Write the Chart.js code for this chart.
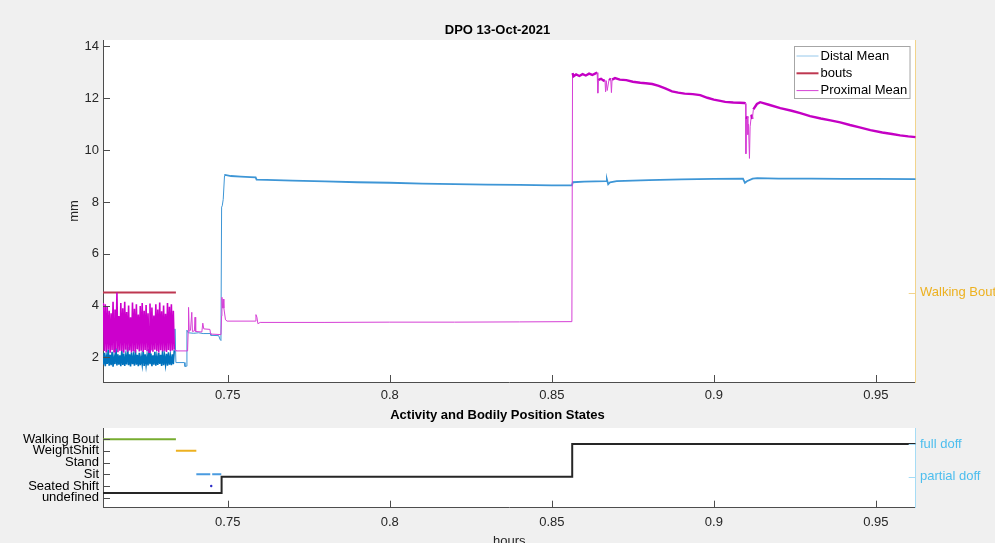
<!doctype html>
<html>

<head>
	<title>DPO 13-Oct-2021</title>
	<script src="https://cdn.jsdelivr.net/npm/chart.js@4"></script>
	<style>
	html, body {
		margin: 0;
		padding: 0;
		width: 995px;
		height: 543px;
		overflow: hidden;
		background: #f0f0f0;
	}
	canvas {
		position: absolute;
		left: 0;
	}
	#sensor {
		top: 0;
	}
	#states {
		top: 400px;
	}
	</style>
</head>

<body>
	<canvas id="sensor" width="995" height="410" style="width:995px;height:410px"></canvas>
	<canvas id="states" width="995" height="160" style="width:995px;height:160px"></canvas>
	<script>
		// ---- data (hours on x) ----
		var noiseHours = [
			0.7116, 0.7119, 0.7122, 0.7125, 0.7128, 0.7131, 0.7134, 0.7137, 0.7140, 0.7143,
			0.7146, 0.7149, 0.7152, 0.7155, 0.7158, 0.7161, 0.7164, 0.7167, 0.7170, 0.7173,
			0.7176, 0.7179, 0.7182, 0.7185, 0.7188, 0.7191, 0.7194, 0.7197, 0.7200, 0.7203,
			0.7206, 0.7209, 0.7212, 0.7215, 0.7218, 0.7221, 0.7224, 0.7227, 0.7230, 0.7233,
			0.7236, 0.7239, 0.7242, 0.7245, 0.7248, 0.7251, 0.7254, 0.7257, 0.7260, 0.7263,
			0.7266, 0.7269, 0.7272, 0.7275, 0.7278, 0.7281, 0.7284, 0.7287, 0.7290, 0.7293,
			0.7296, 0.7299, 0.7302, 0.7305, 0.7308, 0.7311, 0.7314, 0.7317, 0.7320, 0.7323,
			0.7326, 0.7329, 0.7332, 0.7335
		];
		var distalNoise = [
			1.72, 2.18, 1.66, 2.05, 1.75, 2.30, 1.68, 2.10, 1.70, 2.22,
			1.64, 2.02, 1.74, 2.35, 1.69, 2.12, 1.72, 2.08, 1.66, 2.26,
			1.71, 2.15, 1.67, 2.04, 1.73, 2.40, 1.70, 2.12, 1.65, 2.20,
			1.74, 2.06, 1.68, 2.28, 1.72, 2.10, 1.66, 2.18, 1.70, 2.02,
			1.73, 2.25, 1.67, 2.12, 1.71, 2.05, 1.69, 2.32, 1.74, 2.15,
			1.66, 2.08, 1.72, 2.22, 1.68, 2.04, 1.71, 2.18, 1.75, 2.10,
			1.67, 2.26, 1.70, 2.06, 1.73, 2.14, 1.68, 2.20, 1.72, 2.05,
			1.70, 2.12, 1.74, 2.28
		];
		var proximalNoise = [
			4.10, 2.25, 4.05, 2.20, 3.95, 2.30, 3.80, 2.18, 3.70, 2.28,
			4.15, 2.22, 3.85, 2.32, 4.50, 2.20, 3.60, 2.26, 4.10, 2.24,
			3.90, 2.18, 4.15, 2.30, 3.75, 2.22, 4.00, 2.27, 3.55, 2.20,
			4.12, 2.25, 3.88, 2.19, 4.05, 2.31, 3.65, 2.23, 3.98, 2.26,
			4.10, 2.21, 3.80, 2.29, 4.02, 2.24, 3.70, 2.20, 4.08, 2.27,
			3.92, 2.22, 3.62, 2.30, 4.05, 2.25, 3.85, 2.19, 4.12, 2.28,
			3.78, 2.23, 4.00, 2.26, 3.68, 2.21, 4.10, 2.29, 3.95, 2.24,
			4.05, 2.27, 3.80, 2.30
		];

		var distalHours = [
			0.7337, 0.7340, 0.7366, 0.7368, 0.7372, 0.7374, 0.7378, 0.7395, 0.7410, 0.7424,
			0.7446, 0.7448, 0.7472, 0.7476, 0.7479, 0.7481, 0.7483, 0.7486, 0.7490, 0.7492,
			0.7510, 0.7540, 0.7570, 0.7586, 0.7589, 0.7620, 0.7700, 0.7800, 0.7900, 0.8000,
			0.8100, 0.8200, 0.8300, 0.8400, 0.8500, 0.8562, 0.8565, 0.8600, 0.8668, 0.8670,
			0.8674, 0.8680, 0.8700, 0.8800, 0.8900, 0.9000, 0.9090, 0.9096, 0.9102, 0.9120,
			0.9134, 0.9200, 0.9300, 0.9400, 0.9500, 0.9623
		];
		var distalMean = [
			3.10, 1.80, 1.80, 1.65, 1.66, 3.05, 2.95, 2.93, 2.95, 2.92,
			2.92, 2.85, 2.84, 2.70, 2.65, 7.80, 7.85, 8.10, 9.02, 9.04,
			9.00, 8.98, 8.96, 8.95, 8.86, 8.85, 8.82, 8.79, 8.76, 8.74,
			8.71, 8.69, 8.67, 8.66, 8.64, 8.64, 8.76, 8.78, 8.80, 8.87,
			8.68, 8.76, 8.80, 8.84, 8.87, 8.89, 8.90, 8.74, 8.80, 8.90,
			8.92, 8.90, 8.90, 8.89, 8.89, 8.88
		];

		var proximalHours = [
			0.7338, 0.7340, 0.7376, 0.7378, 0.7379, 0.7381, 0.7385, 0.7389, 0.7391, 0.7397,
			0.7399, 0.7401, 0.7420, 0.7423, 0.7426, 0.7445, 0.7447, 0.7479, 0.7481, 0.7482,
			0.7484, 0.7486, 0.7488, 0.7493, 0.7498, 0.7585, 0.7587, 0.7590, 0.7593, 0.7600,
			0.7800, 0.8000, 0.8200, 0.8400, 0.8562, 0.8564, 0.8567, 0.8575, 0.8585, 0.8595,
			0.8605, 0.8615, 0.8625, 0.8635, 0.8640, 0.8642, 0.8644, 0.8646, 0.8652, 0.8660,
			0.8664, 0.8666, 0.8668, 0.8671, 0.8677, 0.8682, 0.8684, 0.8686, 0.8695, 0.8710,
			0.8730, 0.8750, 0.8773, 0.8790, 0.8810, 0.8830, 0.8850, 0.8871, 0.8890, 0.8910,
			0.8935, 0.8958, 0.8980, 0.9000, 0.9020, 0.9035, 0.9060, 0.9080, 0.9094, 0.9098,
			0.9099, 0.9101, 0.9104, 0.9105, 0.9107, 0.9110, 0.9112, 0.9116, 0.9119, 0.9122,
			0.9133, 0.9143, 0.9170, 0.9205, 0.9240, 0.9267, 0.9297, 0.9330, 0.9360, 0.9390,
			0.9420, 0.9450, 0.9483, 0.9520, 0.9550, 0.9575, 0.9600, 0.9623
		];
		var proximalMean = [
			2.28, 2.25, 2.25, 3.05, 3.93, 3.00, 3.05, 3.74, 3.00, 3.02,
			3.55, 3.00, 2.98, 3.32, 3.10, 3.08, 2.90, 2.88, 3.60, 4.32,
			3.90, 4.25, 3.90, 3.45, 3.40, 3.40, 3.65, 3.55, 3.30, 3.35,
			3.35, 3.36, 3.36, 3.37, 3.38, 12.97, 12.85, 12.92, 12.86, 12.93,
			12.88, 12.95, 12.90, 12.96, 12.99, 12.20, 12.70, 12.72, 12.75, 12.68,
			12.70, 12.25, 12.68, 12.30, 12.75, 12.72, 12.22, 12.72, 12.78, 12.72,
			12.70, 12.64, 12.60, 12.58, 12.55, 12.48, 12.38, 12.27, 12.22, 12.18,
			12.16, 12.12, 12.02, 11.95, 11.90, 11.86, 11.84, 11.83, 11.82, 11.80,
			9.86, 11.20, 11.30, 10.60, 11.00, 9.68, 10.90, 11.37, 11.20, 11.57,
			11.78, 11.85, 11.75, 11.62, 11.52, 11.43, 11.31, 11.22, 11.15, 11.07,
			10.97, 10.88, 10.77, 10.68, 10.62, 10.57, 10.53, 10.50
		];

		var boutHours = [0.7115, 0.7340];
		var boutLevel = [4.5, 4.5];

		var stateLabels = ['undefined', 'Seated Shift', 'Sit', 'Stand', 'WeightShift', 'Walking Bout'];
		var walkHours = [0.7115, 0.7340];
		var walkLevel = [5, 5];
		var shiftHours = [0.7340, 0.7403];
		var shiftLevel = [4, 4];
		var sitHours = [0.7403, 0.7446, 0.7449, 0.7452, 0.7480];
		var sitLevel = [2, 2, null, 2, 2];
		var seatedHours = [0.7449];
		var seatedLevel = [1];
		var doffHours = [0.7115, 0.7481, 0.8563, 0.9623];
		var doffLevel = [0.5, 1, 2, 2];
		var doffLabels = {1: 'partial doff', 2: 'full doff'};

		var hourMin = 0.7115;
		var hourMax = 0.9623;
		var noiseEnd = 0.7336;

		function points(xs, ys) {
			return xs.map(function(x, i) {
				return {x: x, y: ys[i]};
			});
		}

		Chart.defaults.font.family = '"Liberation Sans", Arial, Helvetica, sans-serif';
		Chart.defaults.font.size = 13;
		Chart.defaults.color = '#262626';
		Chart.defaults.animation = false;

		var axisColor = '#4d4d4d';

		var plotBackground = {
			id: 'plotBackground',
			beforeDraw: function(chart) {
				var a = chart.chartArea;
				var ctx = chart.ctx;
				ctx.save();
				ctx.fillStyle = '#ffffff';
				ctx.fillRect(a.left, a.top, a.right - a.left, a.bottom - a.top);
				ctx.restore();
			}
		};

		// matlab puts its tick marks inside the axes box
		var inwardTicks = {
			id: 'inwardTicks',
			afterDraw: function(chart) {
				var ctx = chart.ctx;
				var a = chart.chartArea;
				ctx.save();
				ctx.lineWidth = 1;
				Object.keys(chart.scales).forEach(function(id) {
					var s = chart.scales[id];
					ctx.strokeStyle = s.options.border.color;
					s.ticks.forEach(function(t) {
						var p = Math.round(s.getPixelForValue(t.value)) + 0.5;
						ctx.beginPath();
						if (s.position === 'bottom') {
							ctx.moveTo(p, a.bottom);
							ctx.lineTo(p, a.bottom - 7);
						} else if (s.position === 'left') {
							ctx.moveTo(a.left, p);
							ctx.lineTo(a.left + 7, p);
						} else {
							ctx.moveTo(a.right, p);
							ctx.lineTo(a.right - 7, p);
						}
						ctx.stroke();
					});
				});
				ctx.restore();
			}
		};

		// boxed legend in the top-right corner, like the matlab one
		var boxLegend = {
			id: 'boxLegend',
			afterDraw: function(chart, args, opts) {
				var ctx = chart.ctx;
				ctx.save();
				ctx.fillStyle = '#ffffff';
				ctx.strokeStyle = '#a6a6a6';
				ctx.lineWidth = 1;
				ctx.fillRect(opts.left, opts.top, opts.width, opts.height);
				ctx.strokeRect(opts.left, opts.top, opts.width, opts.height);
				ctx.font = '13px "Liberation Sans", Arial, sans-serif';
				ctx.textBaseline = 'middle';
				chart.data.datasets.forEach(function(ds, i) {
					var y = opts.firstRow + i * opts.rowHeight;
					ctx.strokeStyle = ds.legendColor || ds.borderColor;
					ctx.lineWidth = ds.borderWidth;
					ctx.beginPath();
					ctx.moveTo(opts.left + 2, y);
					ctx.lineTo(opts.left + 24, y);
					ctx.stroke();
					ctx.fillStyle = '#000000';
					ctx.fillText(ds.label, opts.left + 26, y);
				});
				ctx.restore();
			}
		};

		function hourAxis(height, padding, title) {
			return {
				type: 'linear',
				position: 'bottom',
				min: hourMin,
				max: hourMax,
				ticks: {
					stepSize: 0.05,
					includeBounds: false,
					padding: padding,
					color: '#262626',
					callback: function(v) {
						return String(+v.toFixed(2));
					}
				},
				grid: {drawOnChartArea: false, drawTicks: false},
				border: {color: axisColor},
				title: title,
				afterFit: function(scale) {
					scale.height = height;
				}
			};
		}

		function inNoise(ctx) {
			return ctx.p1.parsed.x <= noiseEnd;
		}

		new Chart(document.getElementById('sensor').getContext('2d'), {
			type: 'line',
			data: {
				datasets: [{
					label: 'Distal Mean',
					data: points(noiseHours, distalNoise).concat(points(distalHours, distalMean)),
					borderColor: 'rgb(62,150,214)',
					legendColor: 'rgb(150,200,235)',
					borderWidth: 1,
					segment: {
						borderColor: function(ctx) {
							return inNoise(ctx) ? '#0072BD' : undefined;
						},
						borderWidth: function(ctx) {
							if (inNoise(ctx)) return 1.6;
							return Math.abs(ctx.p0.parsed.y - ctx.p1.parsed.y) < 0.3 && ctx.p0.parsed.y > 8.5 ? 1.8 : 1;
						}
					},
					pointRadius: 0,
					order: 3
				}, {
					label: 'bouts',
					data: points(boutHours, boutLevel),
					borderColor: 'rgb(190,55,80)',
					borderWidth: 2,
					pointRadius: 0,
					order: 2
				}, {
					label: 'Proximal Mean',
					data: points(noiseHours, proximalNoise).concat(points(proximalHours, proximalMean)),
					borderColor: '#d640d6',
					legendColor: '#d640d6',
					borderWidth: 1,
					segment: {
						borderColor: function(ctx) {
							if (inNoise(ctx)) return '#cc00cc';
							return Math.abs(ctx.p0.parsed.y - ctx.p1.parsed.y) < 0.3 && ctx.p0.parsed.y > 10 ? '#c400c4' : undefined;
						},
						borderWidth: function(ctx) {
							if (inNoise(ctx)) return 1.6;
							return Math.abs(ctx.p0.parsed.y - ctx.p1.parsed.y) < 0.3 && ctx.p0.parsed.y > 10 ? 2.4 : 1;
						}
					},
					pointRadius: 0,
					order: 1
				}]
			},
			options: {
				responsive: false,
				events: [],
				layout: {padding: 0},
				plugins: {
					legend: {display: false},
					tooltip: {enabled: false},
					title: {
						display: true,
						text: 'DPO 13-Oct-2021',
						color: '#000000',
						font: {size: 13, weight: 'bold'},
						padding: {top: 22.2, bottom: 2.2}
					},
					boxLegend: {left: 794.5, top: 46.5, width: 115.5, height: 52, firstRow: 56, rowHeight: 17.3}
				},
				scales: {
					x: hourAxis(28, 5.9, {display: false}),
					y: {
						position: 'left',
						min: 1.05,
						max: 14.25,
						ticks: {stepSize: 2, includeBounds: false, padding: 4},
						grid: {drawOnChartArea: false, drawTicks: false},
						border: {color: axisColor},
						title: {display: true, text: 'mm', padding: {top: 67, bottom: 0}},
						afterFit: function(scale) {
							scale.width = 103;
						}
					},
					y2: {
						position: 'right',
						min: 1.05,
						max: 14.25,
						afterBuildTicks: function(scale) {
							scale.ticks = [{value: 4.5}];
						},
						ticks: {
							padding: 4.3,
							color: '#EDB120',
							callback: function() {
								return 'Walking Bout';
							}
						},
						grid: {drawOnChartArea: false, drawTicks: false},
						border: {color: '#f2d48c'},
						afterFit: function(scale) {
							scale.width = 79.3;
						}
					}
				}
			},
			plugins: [plotBackground, inwardTicks, boxLegend]
		});

		new Chart(document.getElementById('states').getContext('2d'), {
			type: 'line',
			data: {
				datasets: [{
					label: 'Walking Bout',
					data: points(walkHours, walkLevel),
					borderColor: '#77AC30',
					borderWidth: 2,
					pointRadius: 0
				}, {
					label: 'WeightShift',
					data: points(shiftHours, shiftLevel),
					borderColor: '#EDB120',
					borderWidth: 2,
					pointRadius: 0
				}, {
					label: 'Sit',
					data: points(sitHours, sitLevel),
					borderColor: '#4a9be0',
					borderWidth: 2,
					pointRadius: 0
				}, {
					label: 'Seated Shift',
					data: points(seatedHours, seatedLevel),
					borderColor: '#2c2cc8',
					backgroundColor: '#2c2cc8',
					showLine: false,
					pointRadius: 1.2,
					borderWidth: 0
				}, {
					label: 'doff',
					data: points(doffHours, doffLevel),
					yAxisID: 'y2',
					borderColor: '#262626',
					borderWidth: 2,
					stepped: true,
					pointRadius: 0
				}]
			},
			options: {
				responsive: false,
				events: [],
				layout: {padding: 0},
				plugins: {
					legend: {display: false},
					tooltip: {enabled: false},
					title: {
						display: true,
						text: 'Activity and Bodily Position States',
						color: '#000000',
						font: {size: 13, weight: 'bold'},
						padding: {top: 7.2, bottom: 5.2}
					}
				},
				scales: {
					x: hourAxis(52.3, 6.5, {display: true, text: 'hours', padding: {top: 0, bottom: 11.2}}),
					y: {
						position: 'left',
						min: -0.85,
						max: 5.95,
						ticks: {
							stepSize: 1,
							includeBounds: false,
							autoSkip: false,
							padding: 4,
							color: '#000000',
							callback: function(v) {
								return stateLabels[v];
							}
						},
						grid: {drawOnChartArea: false, drawTicks: false},
						border: {color: axisColor},
						afterFit: function(scale) {
							scale.width = 103;
						}
					},
					y2: {
						position: 'right',
						min: 0.05,
						max: 2.49,
						afterBuildTicks: function(scale) {
							scale.ticks = [{value: 1}, {value: 2}];
						},
						ticks: {
							padding: 4.3,
							color: '#4DBEEE',
							autoSkip: false,
							callback: function(v) {
								return doffLabels[v];
							}
						},
						grid: {drawOnChartArea: false, drawTicks: false},
						border: {color: '#a6dcf5'},
						afterFit: function(scale) {
							scale.width = 79.3;
						}
					}
				}
			},
			plugins: [plotBackground, inwardTicks]
		});
	</script>
</body>

</html>
